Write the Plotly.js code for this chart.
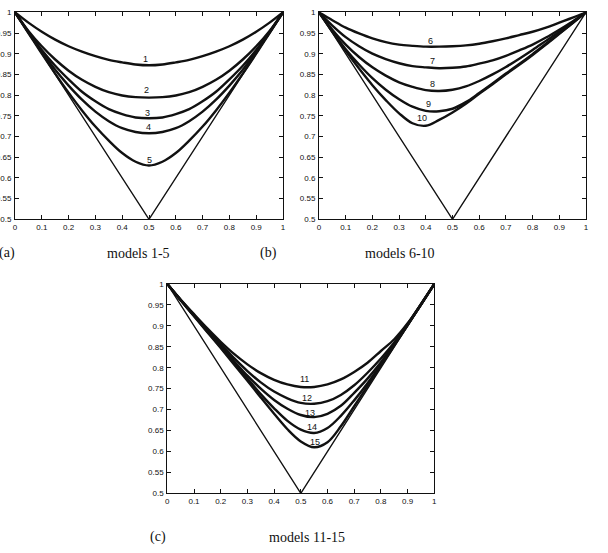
<!DOCTYPE html>
<html>
<head>
<meta charset="utf-8">
<script src="https://cdn.plot.ly/plotly-3.0.1.min.js"></script>
<style>
  html, body { margin: 0; padding: 0; background: #fff; }
  #chart { width: 608px; height: 553px; }
</style>
</head>
<body>
<div id="chart"></div>
<script>
// Common abscissa for every model curve
const xs = [0, 0.05, 0.1, 0.15, 0.2, 0.25, 0.3, 0.35, 0.4, 0.45, 0.5,
            0.55, 0.6, 0.65, 0.7, 0.75, 0.8, 0.85, 0.9, 0.95, 1];

// Models 1-5
const model1  = [1, 0.975, 0.953, 0.934, 0.918, 0.905, 0.894, 0.885, 0.879, 0.874, 0.872,
                 0.874, 0.879, 0.885, 0.894, 0.905, 0.918, 0.934, 0.953, 0.975, 1];
const model2  = [1, 0.955, 0.918, 0.886, 0.859, 0.837, 0.820, 0.807, 0.799, 0.795, 0.794,
                 0.795, 0.799, 0.807, 0.820, 0.837, 0.859, 0.886, 0.918, 0.955, 1];
const model3  = [1, 0.953, 0.909, 0.871, 0.838, 0.808, 0.785, 0.766, 0.754, 0.746, 0.744,
                 0.746, 0.754, 0.766, 0.785, 0.808, 0.838, 0.871, 0.909, 0.953, 1];
const model4  = [1, 0.951, 0.905, 0.861, 0.823, 0.789, 0.760, 0.737, 0.720, 0.711, 0.708,
                 0.711, 0.720, 0.737, 0.760, 0.789, 0.823, 0.861, 0.905, 0.951, 1];
const model5  = [1, 0.950, 0.900, 0.852, 0.806, 0.763, 0.724, 0.690, 0.660, 0.639, 0.630,
                 0.639, 0.660, 0.690, 0.724, 0.763, 0.806, 0.852, 0.900, 0.950, 1];

// Models 6-10
const model6  = [1, 0.981, 0.963, 0.949, 0.937, 0.928, 0.922, 0.919, 0.917, 0.917, 0.918,
                 0.920, 0.924, 0.930, 0.937, 0.945, 0.953, 0.963, 0.975, 0.987, 1];
const model7  = [1, 0.968, 0.940, 0.918, 0.900, 0.887, 0.877, 0.870, 0.867, 0.865, 0.866,
                 0.869, 0.876, 0.884, 0.895, 0.908, 0.922, 0.939, 0.958, 0.978, 1];
const model8  = [1, 0.958, 0.922, 0.892, 0.867, 0.847, 0.831, 0.820, 0.812, 0.810, 0.813,
                 0.821, 0.834, 0.850, 0.868, 0.888, 0.909, 0.931, 0.953, 0.976, 1];
const model9  = [1, 0.954, 0.911, 0.874, 0.841, 0.813, 0.790, 0.772, 0.762, 0.761, 0.767,
                 0.783, 0.805, 0.828, 0.852, 0.875, 0.899, 0.924, 0.949, 0.974, 1];
const model10 = [1, 0.953, 0.907, 0.864, 0.824, 0.788, 0.756, 0.732, 0.726, 0.740, 0.758,
                 0.779, 0.803, 0.826, 0.850, 0.873, 0.897, 0.922, 0.948, 0.974, 1];

// Models 11-15
const model11 = [1, 0.963, 0.928, 0.894, 0.862, 0.833, 0.808, 0.787, 0.771, 0.760, 0.754,
                 0.754, 0.760, 0.772, 0.790, 0.812, 0.840, 0.868, 0.906, 0.952, 1];
const model12 = [1, 0.962, 0.926, 0.890, 0.856, 0.823, 0.792, 0.765, 0.743, 0.727, 0.716,
                 0.714, 0.720, 0.735, 0.758, 0.788, 0.822, 0.860, 0.904, 0.951, 1];
const model13 = [1, 0.962, 0.925, 0.888, 0.852, 0.816, 0.781, 0.750, 0.723, 0.702, 0.687,
                 0.682, 0.690, 0.709, 0.740, 0.774, 0.813, 0.857, 0.903, 0.951, 1];
const model14 = [1, 0.961, 0.924, 0.886, 0.849, 0.811, 0.774, 0.737, 0.703, 0.673, 0.652,
                 0.644, 0.656, 0.685, 0.722, 0.763, 0.808, 0.855, 0.902, 0.951, 1];
const model15 = [1, 0.961, 0.923, 0.885, 0.847, 0.808, 0.769, 0.729, 0.690, 0.653, 0.624,
                 0.610, 0.622, 0.660, 0.708, 0.756, 0.805, 0.853, 0.901, 0.950, 1];

// Lower bound drawn in every panel
const boundX = [0, 0.5, 1];
const boundY = [1, 0.5, 1];

// Tick labels
const xTickVals = [0, 0.1, 0.2, 0.3, 0.4, 0.5, 0.6, 0.7, 0.8, 0.9, 1];
const xTickText = ['0', '0.1', '0.2', '0.3', '0.4', '0.5', '0.6', '0.7', '0.8', '0.9', '1'];
const yTickVals = [0.5, 0.55, 0.6, 0.65, 0.7, 0.75, 0.8, 0.85, 0.9, 0.95, 1];
const yTickText = ['0.5', '0.55', '0.6', '0.65', '0.7', '0.75', '0.8', '0.85', '0.9', '0.95', '1'];

// Panel captions
const panelTags   = ['(a)', '(b)', '(c)'];
const panelTitles = ['models 1-5', 'models 6-10', 'models 11-15'];
const modelNames  = [['1', '2', '3', '4', '5'],
                     ['6', '7', '8', '9', '10'],
                     ['11', '12', '13', '14', '15']];
const panelModels = [[model1, model2, model3, model4, model5],
                     [model6, model7, model8, model9, model10],
                     [model11, model12, model13, model14, model15]];

// ---- layout geometry (pixels in a 608 x 553 page) ----
const W = 608, H = 553;
const boxes = [
  { left: 15,    right: 283,   top: 12.3, bottom: 219.3 },
  { left: 319,   right: 586,   top: 12.3, bottom: 219.3 },
  { left: 167.3, right: 434.3, top: 284,  bottom: 493.3 }
];
// where each model number sits (data coordinates of its panel)
const labelSpots = [
  [[0.486, 0.886], [0.489, 0.812], [0.496, 0.757], [0.497, 0.724], [0.500, 0.643]],
  [[0.419, 0.931], [0.426, 0.883], [0.426, 0.828], [0.410, 0.778], [0.385, 0.744]],
  [[0.513, 0.772], [0.523, 0.728], [0.533, 0.693], [0.541, 0.659], [0.555, 0.623]]
];
// caption anchors in pixels: [tagX, titleX, y]
const captionSpots = [[-3, 105, 253], [258, 363, 253], [148, 267, 537]];

const traces = [];
const annotations = [];
const layout = {
  width: W, height: H,
  margin: { l: 0, r: 0, t: 0, b: 0, pad: 0 },
  paper_bgcolor: '#ffffff',
  plot_bgcolor: '#ffffff',
  showlegend: false,
  font: { family: 'Arial, "Liberation Sans", sans-serif', color: '#111', size: 8 }
};

boxes.forEach((b, i) => {
  const n = i === 0 ? '' : String(i + 1);
  const xa = 'x' + n, ya = 'y' + n;

  // the V-shaped bound
  traces.push({
    x: boundX, y: boundY, xaxis: xa, yaxis: ya,
    mode: 'lines', line: { color: '#111', width: 1.4 }, hoverinfo: 'skip'
  });
  // the model curves
  panelModels[i].forEach((ys, k) => {
    traces.push({
      x: xs, y: ys, xaxis: xa, yaxis: ya, name: 'model ' + modelNames[i][k],
      mode: 'lines', line: { color: '#111', width: 2.4, shape: 'spline', smoothing: 1 }
    });
    annotations.push({
      xref: xa, yref: ya, x: labelSpots[i][k][0], y: labelSpots[i][k][1],
      text: modelNames[i][k], showarrow: false,
      font: { size: 9, color: '#111', family: 'Arial, "Liberation Sans", sans-serif' }
    });
  });

  const common = {
    showline: true, linecolor: '#111', linewidth: 1, mirror: 'ticks',
    ticks: 'inside', ticklen: 4, tickwidth: 1, tickcolor: '#111',
    showgrid: false, zeroline: false, fixedrange: true,
    tickfont: { size: 8, color: '#111', family: 'Arial, "Liberation Sans", sans-serif' }
  };
  layout['xaxis' + n] = Object.assign({}, common, {
    domain: [b.left / W, b.right / W], anchor: ya, range: [0, 1],
    tickmode: 'array', tickvals: xTickVals, ticktext: xTickText
  });
  layout['yaxis' + n] = Object.assign({}, common, {
    domain: [1 - b.bottom / H, 1 - b.top / H], anchor: xa, range: [0.5, 1],
    tickmode: 'array', tickvals: yTickVals, ticktext: yTickText,
    ticklabelstandoff: 1
  });

  // captions under the panel
  const c = captionSpots[i];
  const capFont = { family: '"Liberation Serif", "DejaVu Serif", serif', size: 14, color: '#111' };
  annotations.push({
    xref: 'paper', yref: 'paper', x: c[0] / W, y: 1 - c[2] / H,
    xanchor: 'left', yanchor: 'middle', showarrow: false, text: panelTags[i], font: capFont
  });
  annotations.push({
    xref: 'paper', yref: 'paper', x: c[1] / W, y: 1 - c[2] / H,
    xanchor: 'left', yanchor: 'middle', showarrow: false, text: panelTitles[i], font: capFont
  });
});

layout.annotations = annotations;

Plotly.newPlot('chart', traces, layout, { staticPlot: true, displayModeBar: false });
</script>
</body>
</html>
